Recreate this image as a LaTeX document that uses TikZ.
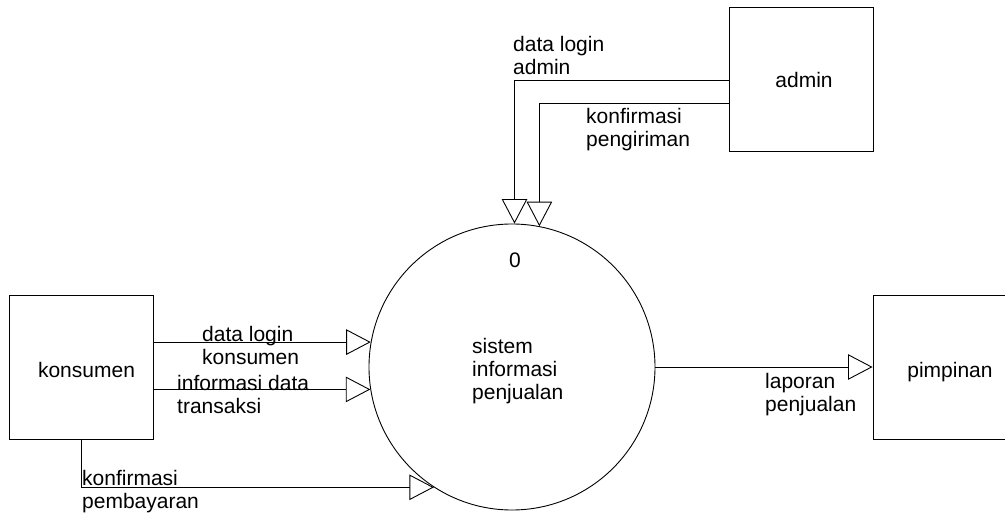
\documentclass[tikz,border=0pt]{standalone}
\usepackage{fontspec}
\setmainfont{Liberation Sans}
\usetikzlibrary{arrows.meta}
\begin{document}
\begin{tikzpicture}[x=1pt,y=-1pt,
  every node/.style={font=\fontsize{21}{23}\selectfont, inner sep=0pt},
  entity/.style={draw, line width=0.9pt, minimum width=144pt, minimum height=144pt},
  process/.style={draw, circle, line width=0.9pt, minimum size=286pt},
  flow/.style={line width=0.9pt, -{Triangle[open, length=24.5pt, width=25.5pt, line width=0.9pt]}},
  flowlabel/.style={anchor=north west, align=left}]
\useasboundingbox (0,0) rectangle (1005,516);
\clip (0,0) rectangle (1005,516);

% external entities and the main process
\node[process] (sys) at (512,367) {};
\node[entity] (kons) at (81,367) {};
\node[entity] (admin) at (801,79.5) {};
\node[entity] (pim) at (945,367.5) {};

% entity names
\node (konsname) at (86.5,369.5) {konsumen};
\node (adminname) at (804,80) {admin};
\node (pimname) at (950,372.5) {pimpinan};

% process number and name
\node[anchor=north] (num) at (515,253) {0};
\node[anchor=north west, align=left] (systext) at (472,338) {sistem\\informasi\\penjualan};

% data flows
\draw[flow] (admin.west |- 0,80) -| (sys.89.6);
\draw[flow] (admin.west |- 0,103) -| (sys.79.5);
\draw[flow] (kons.east |- sys.170.75) -- (sys.170.75);
\draw[flow] (kons.east |- sys.189.93) -- (sys.189.93);
\draw[flow] (kons.south) |- (sys.237.8);
\draw[flow] (sys.east) -- (pim.west |- sys.east);

% flow labels
\node[flowlabel] (l1) at (513,36) {data login\\admin};
\node[flowlabel] (l2) at (586,108) {konfirmasi\\pengiriman};
\node[flowlabel] (l3) at (202,326) {data login\\konsumen};
\node[flowlabel] (l4) at (177,375) {informasi data\\transaksi};
\node[flowlabel] (l5) at (82,470) {konfirmasi\\pembayaran};
\node[flowlabel] (l6) at (765,373) {laporan\\penjualan};
\end{tikzpicture}
\end{document}
